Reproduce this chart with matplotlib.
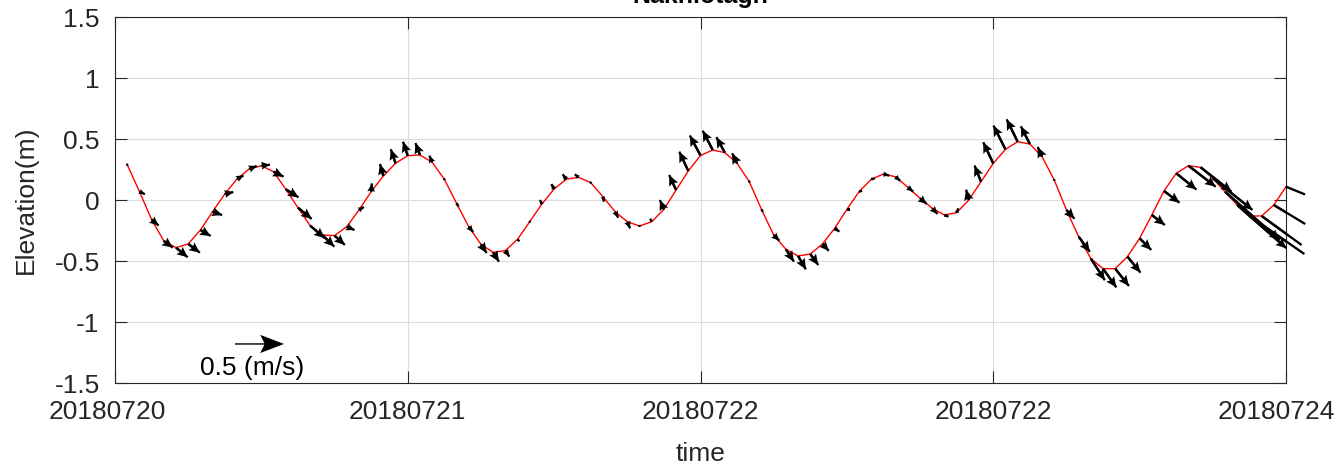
import numpy as np
import matplotlib
matplotlib.use("Agg")
import matplotlib.pyplot as plt
from matplotlib.transforms import ScaledTranslation

plt.rcParams['font.family'] = ['Liberation Sans', 'DejaVu Sans']

# ---------------- data ----------------
title_text = "Nakhlotagh"
xtick_labels = ["20180720", "20180721", "20180722", "20180722", "20180724"]
ytick_values = [-1.5, -1, -0.5, 0, 0.5, 1, 1.5]
ytick_labels = ["-1.5", "-1", "-0.5", "0", "0.5", "1", "1.5"]

# hourly water elevation (m), hours 1..96 after 20180720 00:00
eta = [0.29, 0.07, -0.16, -0.336, -0.39, -0.36, -0.246, -0.096, 0.049, 0.172,
       0.254, 0.281, 0.232, 0.088, -0.063, -0.21, -0.287, -0.292, -0.219, -0.082,
       0.068, 0.197, 0.301, 0.363, 0.369, 0.309, 0.17, -0.027, -0.219, -0.363,
       -0.429, -0.415, -0.322, -0.178, -0.033, 0.09, 0.17, 0.186, 0.142, 0.027,
       -0.096, -0.178, -0.213, -0.178, -0.077, 0.082, 0.238, 0.365, 0.41, 0.388,
       0.301, 0.15, -0.077, -0.287, -0.404, -0.459, -0.443, -0.36, -0.232, -0.077,
       0.068, 0.17, 0.213, 0.19, 0.104, 0.014, -0.068, -0.123, -0.104, 0.0,
       0.15, 0.30, 0.415, 0.478, 0.459, 0.355, 0.164, -0.082, -0.3, -0.48,
       -0.563, -0.563, -0.464, -0.314, -0.123, 0.074, 0.219, 0.281, 0.268, 0.178,
       0.068, -0.041, -0.131, -0.131, -0.041, 0.109]

# hourly current components (m/s)
u = [0.005, 0.056, 0.071, 0.092, 0.119, 0.119, 0.105, 0.097, 0.087, 0.066,
     0.077, 0.087, 0.102, 0.130, 0.140, 0.148, 0.122, 0.105, 0.079, 0.051,
     0.007, -0.034, -0.048, -0.048, -0.046, -0.028, 0.005, 0.020, 0.046, 0.058,
     0.059, 0.041, 0.020, -0.010, -0.020, -0.028, -0.038, -0.038, 0.010, 0.010,
     0.031, 0.028, 0.010, -0.015, -0.041, -0.071, -0.092, -0.109, -0.102, -0.087,
     -0.051, -0.010, 0.015, 0.058, 0.082, 0.079, 0.082, 0.064, 0.048, 0.031,
     0.031, 0.036, 0.058, 0.046, 0.054, 0.068, 0.054, 0.041, 0.017, -0.028,
     -0.066, -0.102, -0.122, -0.112, -0.092, -0.044, 0.007, 0.082, 0.115, 0.143,
     0.136, 0.140, 0.133, 0.119, 0.133, 0.158, 0.206, 0.278, 0.316, 0.405,
     0.559, 0.503, 0.561, 0.408, 0.321, 0.194]
v = [-0.003, -0.028, -0.061, -0.068, -0.099, -0.089, -0.061, -0.034, 0.020, 0.036,
     0.031, 0.010, -0.051, -0.082, -0.115, -0.128, -0.119, -0.095, -0.034, 0.031,
     0.085, 0.122, 0.143, 0.143, 0.122, 0.068, -0.010, -0.031, -0.056, -0.089,
     -0.095, -0.061, -0.020, 0.020, 0.041, 0.051, 0.051, 0.031, -0.010, -0.051,
     -0.061, -0.068, -0.020, 0.031, 0.095, 0.153, 0.197, 0.204, 0.197, 0.158,
     0.102, 0.020, -0.026, -0.058, -0.126, -0.136, -0.112, -0.071, -0.034, 0.000,
     0.010, 0.010, -0.017, -0.041, -0.044, -0.058, -0.058, -0.017, 0.044, 0.105,
     0.165, 0.216, 0.243, 0.228, 0.181, 0.099, -0.015, -0.089, -0.156, -0.221,
     -0.191, -0.177, -0.163, -0.119, -0.102, -0.120, -0.166, -0.214, -0.249, -0.323,
     -0.493, -0.442, -0.388, -0.296, -0.194, -0.079]

ref_speed = 0.5          # reference arrow (m/s)
ref_label = "0.5 (m/s)"

# ---------------- layout ----------------
W, H = 1341, 465
fig = plt.figure(figsize=(W / 100, H / 100), dpi=100)
ax = fig.add_axes([115 / W, 82 / H, (1286 - 115) / W, (383 - 17) / H])

hours = np.arange(1, len(eta) + 1)
t = hours / 24.0

px_per_ms = 49 / 0.5
qscale = 1.0 / px_per_ms

ax.plot(t, eta, color='red', lw=1.0, zorder=3)

# shafts (not clipped, as in the original) + full arrows (clipped)
ax.quiver(t, eta, u, v, angles='uv', scale_units='dots', scale=qscale,
          units='dots', width=2.3, headwidth=0, headlength=0, headaxislength=0,
          color='black', zorder=4, clip_on=False, pivot='tail')
ax.quiver(t, eta, u, v, angles='uv', scale_units='dots', scale=qscale,
          units='dots', width=2.3, headwidth=4.2, headlength=4.6,
          headaxislength=4.0, color='black', zorder=5, pivot='tail')

# reference arrow
ax.quiver([0.41], [-1.18], [ref_speed], [0.0], angles='uv', scale_units='dots',
          scale=qscale, units='dots', width=1.4, headwidth=13, headlength=17,
          headaxislength=14, color='black', zorder=5, pivot='tail')
ax.text(0.47, -1.377, ref_label, ha='center', va='center', fontsize=19,
        color='black')

ax.set_xlim(0, 4)
ax.set_ylim(-1.5, 1.5)
ax.set_xticks([0, 1, 2, 3, 4])
ax.set_xticklabels(xtick_labels)
ax.set_yticks(ytick_values)
ax.set_yticklabels(ytick_labels)

dark = '#262626'
ax.grid(True, color='#dcdcdc', lw=0.8, zorder=0)
ax.set_axisbelow(True)
for s in ax.spines.values():
    s.set_color(dark)
    s.set_linewidth(0.8)
ax.tick_params(direction='in', length=8.5, width=0.8, color=dark,
               labelcolor=dark, labelsize=19, top=True, right=True)
ax.tick_params(axis='x', pad=12)
ax.tick_params(axis='y', pad=11)

ax.set_xlabel('time', fontsize=19, color=dark, labelpad=13)
ax.set_ylabel('Elevation(m)', fontsize=19, color=dark, labelpad=12)

# edge tick labels nudged inward as in the original
labs = ax.get_xticklabels()
labs[0].set_transform(labs[0].get_transform() + ScaledTranslation(-0.08, 0, fig.dpi_scale_trans))
labs[-1].set_transform(labs[-1].get_transform() + ScaledTranslation(-0.095, 0, fig.dpi_scale_trans))

fig.text(700 / W, 1 - 3 / H, title_text, ha='center', va='baseline',
         fontsize=18, fontweight='bold', color='black')

fig.savefig('out.png', dpi=100)
